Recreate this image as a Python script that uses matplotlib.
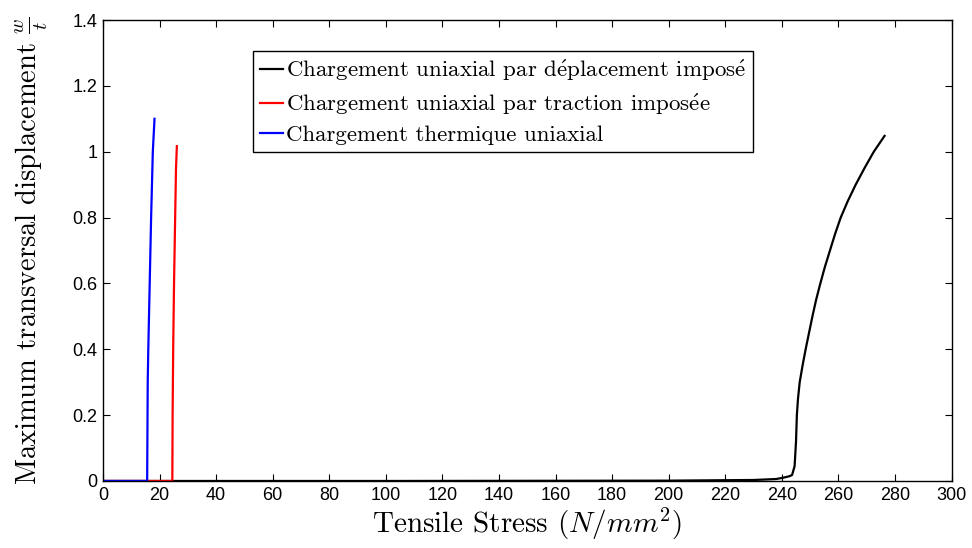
import numpy as np
import matplotlib
matplotlib.use("Agg")
import matplotlib.pyplot as plt

plt.rcParams['font.family'] = ['Liberation Sans', 'DejaVu Sans']
plt.rcParams['mathtext.fontset'] = 'cm'

# displacement-imposed loading (black)
x_depl = [0, 100, 200, 230, 238, 240.5, 242.5, 243.6, 244.5, 245.0, 245.3, 245.7, 246.3,
          247.3, 248.4, 249.6, 250.8, 252.1, 253.6, 255.2, 257.0, 258.8, 260.8, 263.3,
          266.1, 269.2, 272.5, 276.3]
y_depl = [0, 0, 0.001, 0.003, 0.006, 0.01, 0.014, 0.018, 0.045, 0.12, 0.2, 0.25, 0.3,
          0.35, 0.4, 0.45, 0.5, 0.55, 0.6, 0.65, 0.7, 0.75, 0.8, 0.85,
          0.9, 0.95, 1.0, 1.048]

# traction-imposed loading (red)
x_trac = [0, 24.5, 24.6, 24.8, 25.1, 25.5, 25.8, 26.1]
y_trac = [0, 0, 0.2, 0.4, 0.6, 0.8, 0.95, 1.017]

# thermal loading (blue)
x_therm = [0, 15.6, 15.7, 15.8, 16.0, 16.5, 17.0, 17.6, 18.2]
y_therm = [0, 0, 0.15, 0.3, 0.4, 0.6, 0.8, 1.0, 1.1]

labels = ["Chargement uniaxial par d$\\mathrm{\\acute{e}}$placement impos$\\mathrm{\\acute{e}}$",
          "Chargement uniaxial par traction impos$\\mathrm{\\acute{e}}$e",
          "Chargement thermique uniaxial"]

xticks = np.arange(0, 301, 20)
yticks = [0, 0.2, 0.4, 0.6, 0.8, 1.0, 1.2, 1.4]
ytick_labels = ["0", "0.2", "0.4", "0.6", "0.8", "1", "1.2", "1.4"]

serif = ['cmr10', 'DejaVu Serif']

fig = plt.figure(figsize=(9.72, 5.48), dpi=100)
ax = fig.add_axes([0.106, 0.1223, 0.873, 0.8412])

ax.plot(x_depl, y_depl, color="black", lw=1.6, label=labels[0])
ax.plot(x_trac, y_trac, color="red", lw=1.6, label=labels[1])
ax.plot(x_therm, y_therm, color="blue", lw=1.6, label=labels[2])

ax.set_xlim(0, 300)
ax.set_ylim(0, 1.4)
ax.set_xticks(xticks)
ax.set_xticklabels([str(t) for t in xticks])
ax.set_yticks(yticks)
ax.set_yticklabels(ytick_labels)
ax.tick_params(direction="in", length=5, width=0.8, labelsize=13, top=True, right=True, pad=4)
for s in ax.spines.values():
    s.set_linewidth(1.0)

ax.set_xlabel("Tensile Stress $(N/mm^2)$", family=serif, fontsize=21, labelpad=2)
ax.set_ylabel("Maximum transversal displacement $\\frac{w}{t}$", family=serif, fontsize=20.5, labelpad=16)

leg = ax.legend(loc="upper left", bbox_to_anchor=(0.177, 0.933), borderaxespad=0,
                prop=dict(family=serif, size=16.5), handlelength=1.0, handletextpad=0.15,
                labelspacing=0.38, borderpad=0.3, fancybox=False, framealpha=1,
                edgecolor="black")
leg.get_frame().set_linewidth(1.0)

plt.savefig("out.png", dpi=100)
